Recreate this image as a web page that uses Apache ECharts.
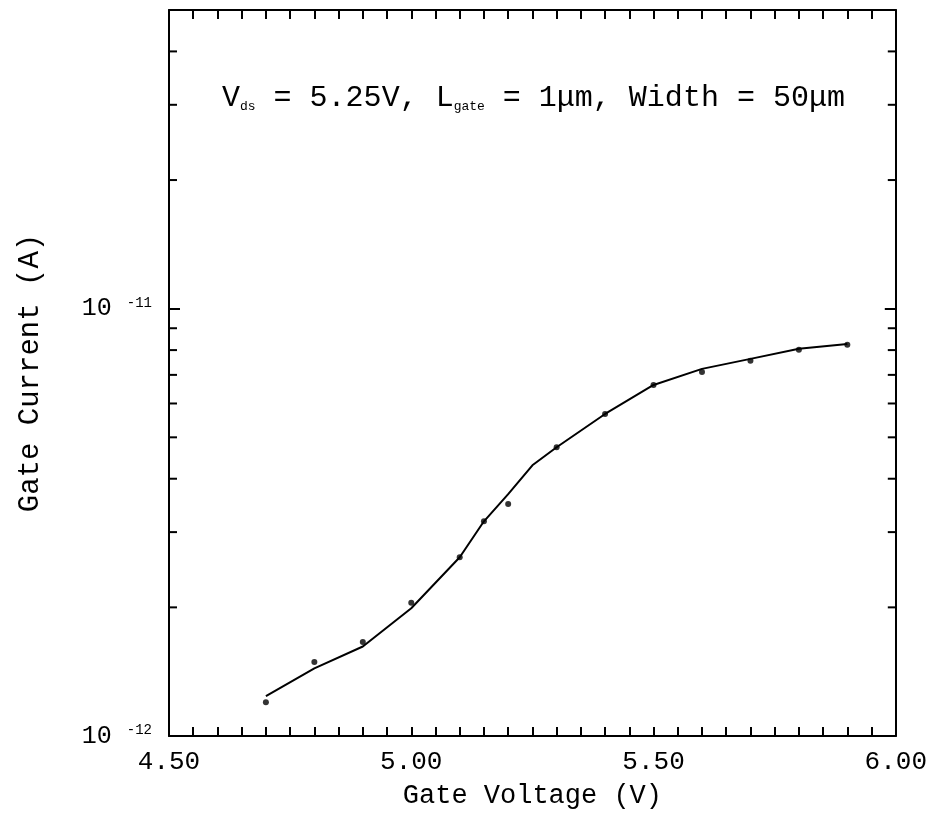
<!DOCTYPE html>
<html>
<head>
<meta charset="utf-8">
<script src="https://cdn.jsdelivr.net/npm/echarts@6/dist/echarts.min.js"></script>
<style>
  html, body { margin: 0; padding: 0; background: #fff; }
  #chart { width: 930px; height: 823px; }
</style>
</head>
<body>
<div id="chart"></div>
<script>
// ---- data ----
const measuredVoltage = [4.70, 4.80, 4.90, 5.00, 5.10, 5.15, 5.20, 5.30, 5.40, 5.50, 5.60, 5.70, 5.80, 5.90];
const measuredCurrent = [1.20e-12, 1.49e-12, 1.66e-12, 2.05e-12, 2.62e-12, 3.18e-12, 3.49e-12, 4.74e-12, 5.67e-12, 6.63e-12, 7.11e-12, 7.55e-12, 8.01e-12, 8.23e-12];
const fitVoltage = [4.70, 4.80, 4.90, 5.00, 5.10, 5.15, 5.20, 5.25, 5.30, 5.40, 5.50, 5.60, 5.70, 5.80, 5.90];
const fitCurrent = [1.24e-12, 1.44e-12, 1.62e-12, 1.99e-12, 2.62e-12, 3.18e-12, 3.68e-12, 4.30e-12, 4.74e-12, 5.67e-12, 6.63e-12, 7.23e-12, 7.63e-12, 8.06e-12, 8.27e-12];
const yMinorTicks = [2e-12, 3e-12, 4e-12, 5e-12, 6e-12, 7e-12, 8e-12, 9e-12, 2e-11, 3e-11, 4e-11];
const xTickLabels = ['4.50', '5.00', '5.50', '6.00'];
const xLabel = 'Gate Voltage (V)';
const yLabel = 'Gate Current (A)';

const FONT = 'Liberation Mono';
const xMin = 4.5, xMax = 6.0, yMin = 1e-12, yMax = 5e-11;

const chart = echarts.init(document.getElementById('chart'), null, { renderer: 'canvas' });

function xAxisBase(pos, showLabel) {
  return {
    type: 'value', position: pos, min: xMin, max: xMax, interval: 0.5,
    axisLine: { show: true, onZero: false, lineStyle: { color: '#000', width: 2 } },
    axisTick: { show: true, inside: true, length: 9, lineStyle: { color: '#000', width: 2 } },
    minorTick: { show: true, splitNumber: 10, length: 9, lineStyle: { color: '#000', width: 2 } },
    splitLine: { show: false }, minorSplitLine: { show: false },
    axisLabel: {
      show: showLabel, color: '#000', fontFamily: FONT, fontSize: 26, margin: 13,
      formatter: function (v) {
        const i = Math.round((v - xMin) / 0.5);
        return xTickLabels[i] !== undefined ? xTickLabels[i] : '';
      }
    }
  };
}

function yAxisBase(pos, showLabel) {
  return {
    type: 'log', logBase: 10, position: pos, min: yMin, max: yMax,
    axisLine: { show: true, onZero: false, lineStyle: { color: '#000', width: 2 } },
    axisTick: { show: true, inside: true, length: 11, lineStyle: { color: '#000', width: 2 } },
    splitLine: { show: false },
    axisLabel: {
      show: showLabel, color: '#000', fontFamily: FONT, margin: 17,
      formatter: function (v) {
        const e = Math.log10(v);
        if (Math.abs(e - Math.round(e)) > 1e-6) return '';
        return '{b|10 }{s|' + Math.round(e) + '}';
      },
      rich: {
        b: { fontFamily: FONT, fontSize: 25, color: '#000', verticalAlign: 'bottom' },
        s: { fontFamily: FONT, fontSize: 14, color: '#000', verticalAlign: 'top' }
      }
    }
  };
}

const xb = xAxisBase('bottom', true);
xb.name = xLabel; xb.nameLocation = 'middle'; xb.nameGap = 46;
xb.nameTextStyle = { fontFamily: FONT, fontSize: 27, color: '#000' };
const xt = xAxisBase('top', false);

const yl = yAxisBase('left', true);
yl.name = yLabel; yl.nameLocation = 'middle'; yl.nameGap = 124;
yl.nameTextStyle = { fontFamily: FONT, fontSize: 29, color: '#000' };
const yr = yAxisBase('right', false);

chart.setOption({
  backgroundColor: '#fff',
  animation: false,
  grid: { left: 169, right: 30, top: 10, bottom: 87, containLabel: false },
  xAxis: [xb, xt],
  yAxis: [yl, yr],
  series: [
    {
      type: 'line', xAxisIndex: 0, yAxisIndex: 0,
      data: fitVoltage.map((v, i) => [v, fitCurrent[i]]),
      showSymbol: false, smooth: false,
      lineStyle: { color: '#000', width: 2 }
    },
    {
      type: 'scatter', xAxisIndex: 0, yAxisIndex: 0,
      data: measuredVoltage.map((v, i) => [v, measuredCurrent[i]]),
      symbol: 'circle', symbolSize: 6,
      itemStyle: { color: '#000' }
    },
    {
      type: 'custom', xAxisIndex: 0, yAxisIndex: 0,
      data: yMinorTicks.map(v => [xMin, v]),
      silent: true, clip: false,
      renderItem: function (params, api) {
        const v = api.value(1);
        const pl = api.coord([xMin, v]);
        const pr = api.coord([xMax, v]);
        const st = { stroke: '#000', lineWidth: 2 };
        return {
          type: 'group',
          children: [
            { type: 'line', shape: { x1: pl[0], y1: pl[1], x2: pl[0] + 8, y2: pl[1] }, style: st },
            { type: 'line', shape: { x1: pr[0] - 8, y1: pr[1], x2: pr[0], y2: pr[1] }, style: st }
          ]
        };
      }
    }
  ],
  graphic: [
    {
      type: 'text', left: 222, top: 83,
      style: {
        text: '{n|V}{sub|ds}{n| = 5.25V, L}{sub|gate}{n| = 1μm, Width = 50μm}',
        rich: {
          n: { fontFamily: FONT, fontSize: 30, fill: '#000', verticalAlign: 'bottom' },
          sub: { fontFamily: FONT, fontSize: 13, fill: '#000', verticalAlign: 'bottom' }
        }
      }
    }
  ]
});
</script>
</body>
</html>
